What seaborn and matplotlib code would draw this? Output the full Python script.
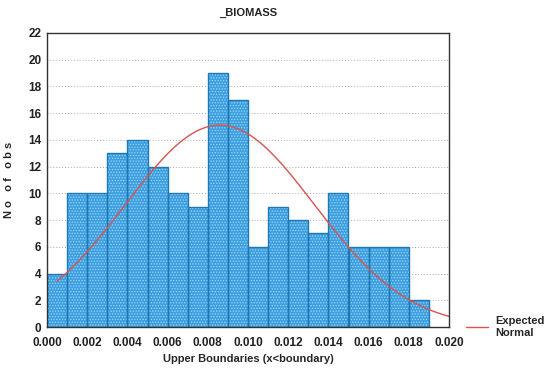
import numpy as np
import pandas as pd
import matplotlib
matplotlib.use("Agg")
import matplotlib.pyplot as plt
import seaborn as sns

# Data
bin_edges = [0.000, 0.001, 0.002, 0.003, 0.004, 0.005, 0.006, 0.007, 0.008, 0.009, 0.010,
             0.011, 0.012, 0.013, 0.014, 0.015, 0.016, 0.017, 0.018, 0.019]
counts = [4, 10, 10, 13, 14, 12, 10, 9, 19, 17, 6, 9, 8, 7, 10, 6, 6, 6, 2]
normal_mean = 0.0086
normal_sd = 0.0047
x_ticks = [0.000, 0.002, 0.004, 0.006, 0.008, 0.010, 0.012, 0.014, 0.016, 0.018, 0.020]
y_ticks = [0, 2, 4, 6, 8, 10, 12, 14, 16, 18, 20, 22]

sns.set_style("white")
plt.rcParams['font.family'] = ['Liberation Sans', 'DejaVu Sans']
plt.rcParams['hatch.linewidth'] = 0.6

fig = plt.figure(figsize=(5.51, 3.74), dpi=100)
ax = fig.add_axes([47/551, 47/374, (449-47)/551, (327-33)/374])

df = pd.DataFrame({"x": [b + 0.0005 for b in bin_edges[:-1]], "n": counts})
sns.histplot(data=df, x="x", weights="n", bins=bin_edges, ax=ax,
             color="#3d9fe0", alpha=1, edgecolor="#9ad6f7", linewidth=0,
             hatch="......", legend=False)
sns.histplot(data=df, x="x", weights="n", bins=bin_edges, ax=ax,
             fill=False, edgecolor="#1c3380", linewidth=1.0, legend=False)

# Expected normal curve
n_total = sum(counts)
bw = bin_edges[1] - bin_edges[0]
xs = np.linspace(0.0005, 0.020, 200)
ys = n_total * bw / (normal_sd * np.sqrt(2 * np.pi)) * np.exp(-0.5 * ((xs - normal_mean) / normal_sd) ** 2)
sns.lineplot(x=xs, y=ys, ax=ax, color="#d9534f", linewidth=1.0, label="Expected\nNormal")

ax.set_xlim(0, 0.020)
ax.set_ylim(0, 22)
ax.set_xticks(x_ticks)
ax.set_xticklabels([f"{v:.3f}" for v in x_ticks])
ax.set_yticks(y_ticks)
ax.tick_params(labelsize=8.5, length=2, width=0.8, pad=2)
ax.tick_params(axis="x", pad=5)
for lbl in ax.get_xticklabels() + ax.get_yticklabels():
    lbl.set_fontweight("bold")
    lbl.set_color("#222222")
ax.yaxis.grid(True, linestyle=(0, (1, 2)), color="#aaaaaa", linewidth=0.7)
ax.set_axisbelow(True)
for s in ax.spines.values():
    s.set_color("#333333")
    s.set_linewidth(1.0)

ax.set_title("_BIOMASS", fontsize=8, fontweight="bold", pad=12)
ax.set_xlabel("Upper Boundaries (x<boundary)", fontsize=8, fontweight="bold", labelpad=4)
ax.set_ylabel("N o   o f   o b s", fontsize=8, fontweight="bold", labelpad=10)

leg = ax.legend(loc="center left", bbox_to_anchor=(1.03, 0.0), frameon=False,
                fontsize=8, handlelength=2.0, handletextpad=0.7, borderaxespad=0)
for t in leg.get_texts():
    t.set_fontweight("bold")

fig.savefig("out.png", dpi=100)
